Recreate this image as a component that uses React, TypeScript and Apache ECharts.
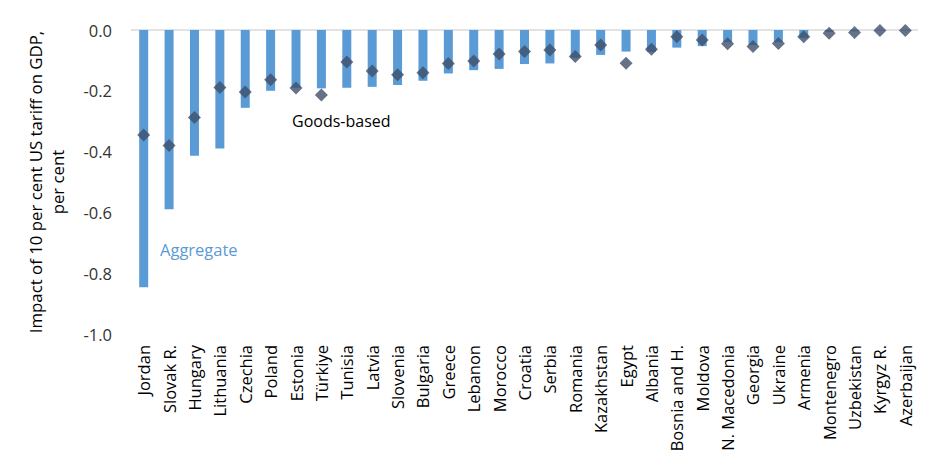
import React, { useEffect, useRef } from "react";
import * as echarts from "echarts";

const categories = [
  "Jordan", "Slovak R.", "Hungary", "Lithuania", "Czechia", "Poland", "Estonia", "Türkiye",
  "Tunisia", "Latvia", "Slovenia", "Bulgaria", "Greece", "Lebanon", "Morocco", "Croatia",
  "Serbia", "Romania", "Kazakhstan", "Egypt", "Albania", "Bosnia and H.", "Moldova",
  "N. Macedonia", "Georgia", "Ukraine", "Armenia", "Montenegro", "Uzbekistan", "Kyrgyz R.",
  "Azerbaijan",
];

const aggregate = [
  -0.846, -0.59, -0.414, -0.39, -0.256, -0.2, -0.19, -0.192,
  -0.19, -0.187, -0.181, -0.167, -0.143, -0.132, -0.128, -0.112,
  -0.11, -0.092, -0.082, -0.071, -0.072, -0.058, -0.053,
  -0.04, -0.05, -0.04, -0.026, -0.006, -0.004, -0.001,
  -0.001,
];

const goodsBased = [
  -0.345, -0.38, -0.288, -0.189, -0.204, -0.164, -0.191, -0.214,
  -0.105, -0.135, -0.147, -0.141, -0.11, -0.102, -0.079, -0.071,
  -0.066, -0.087, -0.049, -0.109, -0.063, -0.022, -0.033,
  -0.045, -0.054, -0.044, -0.022, -0.011, -0.008, -0.002,
  -0.002,
];

const yTicks = { min: -1, max: 0, interval: 0.2 };

const FONT = "'Open Sans', 'Noto Sans', sans-serif";

export default function App() {
  const ref = useRef<HTMLDivElement>(null);
  useEffect(() => {
    if (!ref.current) return;
    const chart = echarts.init(ref.current, null, { renderer: "svg" });
    chart.setOption({
      animation: false,
      grid: { left: 123, right: 30, top: 22, bottom: 128, containLabel: false },
      xAxis: {
        type: "category",
        data: categories,
        position: "bottom",
        axisLine: { show: false, onZero: false },
        axisTick: { show: false },
        axisLabel: {
          rotate: 90,
          interval: 0,
          margin: 11,
          color: "#000000",
          fontFamily: FONT,
          fontSize: 16.5,
        },
        splitLine: { show: false },
      },
      yAxis: {
        type: "value",
        min: yTicks.min,
        max: yTicks.max,
        interval: yTicks.interval,
        name: "Impact of 10 per cent US tariff on GDP,\nper cent",
        nameLocation: "middle",
        nameGap: 63,
        nameTextStyle: {
          color: "#000000",
          fontFamily: FONT,
          fontSize: 16.8,
          lineHeight: 22,
        },
        axisLine: { show: false },
        axisTick: { show: false },
        splitLine: { show: false },
        axisLabel: {
          margin: 19,
          color: "#333333",
          fontFamily: FONT,
          fontSize: 16.5,
          formatter: (v: number) => v.toFixed(1),
        },
      },
      series: [
        {
          name: "Aggregate",
          type: "bar",
          data: aggregate,
          barWidth: 9,
          itemStyle: { color: "#5b9bd5" },
          markLine: {
            silent: true,
            symbol: ["none", "none"],
            label: { show: false },
            lineStyle: { color: "#d9d9d9", type: "solid", width: 1.5 },
            data: [{ yAxis: 0 }],
            z: 1,
          },
        },
        {
          name: "Goods-based",
          type: "scatter",
          data: goodsBased,
          symbol: "diamond",
          symbolSize: [13, 13],
          itemStyle: { color: "#3f4f6a" },
          z: 5,
        },
      ],
      graphic: [
        {
          type: "text",
          left: 284,
          top: 105,
          style: {
            text: "Goods-based",
            fill: "#000000",
            font: `16px ${FONT}`,
          },
        },
        {
          type: "text",
          left: 152,
          top: 233,
          style: {
            text: "Aggregate",
            fill: "#5b9bd5",
            font: `16.5px ${FONT}`,
          },
        },
      ],
    });
    return () => chart.dispose();
  }, []);
  return <div ref={ref} style={{ width: 940, height: 454 }} />;
}
